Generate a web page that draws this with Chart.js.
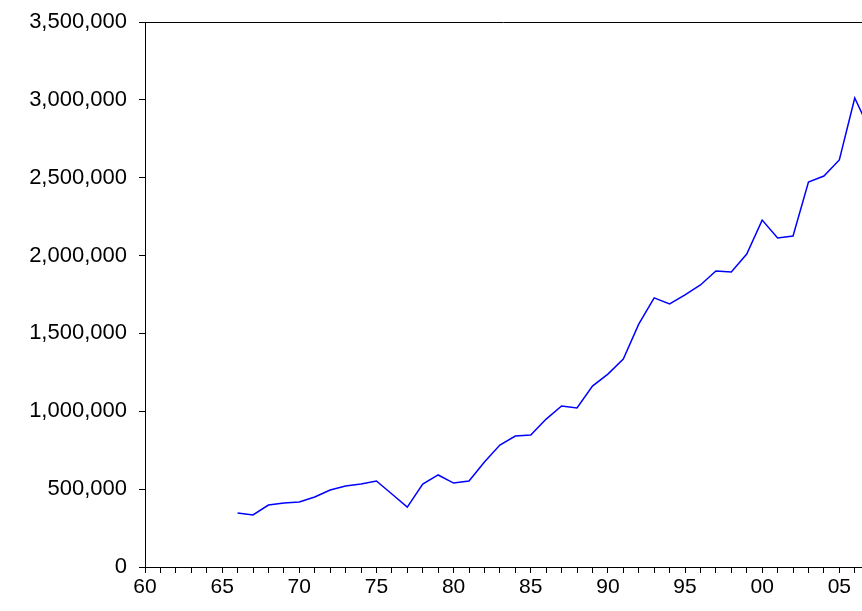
<!DOCTYPE html>
<html>
<head>
<script src="https://cdn.jsdelivr.net/npm/chart.js@4/dist/chart.umd.min.js"></script>
<style>
  body { margin: 0; background: #fff; }
  #wrap { width: 862px; height: 611px; }
</style>
</head>
<body>
<div id="wrap"><canvas id="chart"></canvas></div>
<script>
const years = [1966,1967,1968,1969,1970,1971,1972,1973,1974,1975,1976,1977,1978,1979,1980,1981,1982,1983,1984,1985,1986,1987,1988,1989,1990,1991,1992,1993,1994,1995,1996,1997,1998,1999,2000,2001,2002,2003,2004,2005,2006,2007];
const values = [347000,334000,398000,411000,417000,450000,494000,520000,533000,552000,469000,385000,533000,591000,539000,552000,674000,783000,841000,848000,950000,1034000,1021000,1162000,1239000,1336000,1560000,1728000,1689000,1747000,1811000,1901000,1894000,2010000,2228000,2113000,2126000,2472000,2511000,2614000,3012000,2800000];
const yTicks = [0,500000,1000000,1500000,2000000,2500000,3000000,3500000];

const topBorder = {
  id: "topBorder",
  afterDraw(chart) {
    const { ctx, chartArea: a } = chart;
    ctx.save();
    ctx.strokeStyle = "#000";
    ctx.lineWidth = 1;
    ctx.beginPath();
    ctx.moveTo(a.left, a.top + 0.5);
    ctx.lineTo(a.right, a.top + 0.5);
    ctx.stroke();
    ctx.restore();
  }
};

new Chart(document.getElementById("chart"), {
  type: "line",
  data: {
    datasets: [{
      data: years.map((y, i) => ({ x: y, y: values[i] })),
      borderColor: "#0000ff",
      borderWidth: 1.5,
      pointRadius: 0,
      tension: 0,
      fill: false
    }]
  },
  options: {
    responsive: true,
    maintainAspectRatio: false,
    animation: false,
    layout: { padding: { top: 0, right: 0, left: 0, bottom: 0 } },
    plugins: { legend: { display: false }, tooltip: { enabled: false } },
    scales: {
      x: {
        type: "linear",
        min: 1960,
        max: 2006.47,
        afterFit: s => { s.height = 44; },
        afterBuildTicks: s => {
          const t = [];
          for (let v = 1960; v <= 2006; v++) t.push({ value: v });
          s.ticks = t;
        },
        ticks: {
          autoSkip: false,
          maxRotation: 0,
          color: "#000",
          font: { family: "Liberation Sans, Arial", size: 21 },
          padding: 2,
          callback: v => v % 5 === 0 ? String(v % 100).padStart(2, "0") : ""
        },
        grid: { drawOnChartArea: false, tickLength: 6, color: "#000" },
        border: { color: "#000" }
      },
      y: {
        min: 0,
        max: 3500000,
        afterFit: s => { s.width = 145; s.paddingTop = 22; },
        afterBuildTicks: s => { s.ticks = yTicks.map(v => ({ value: v })); },
        ticks: {
          color: "#000",
          font: { family: "Liberation Sans, Arial", size: 22 },
          padding: 12,
          callback: v => v.toLocaleString("en-US")
        },
        grid: { drawOnChartArea: false, tickLength: 6, color: "#000" },
        border: { color: "#000" }
      }
    }
  },
  plugins: [topBorder]
});
</script>
</body>
</html>
